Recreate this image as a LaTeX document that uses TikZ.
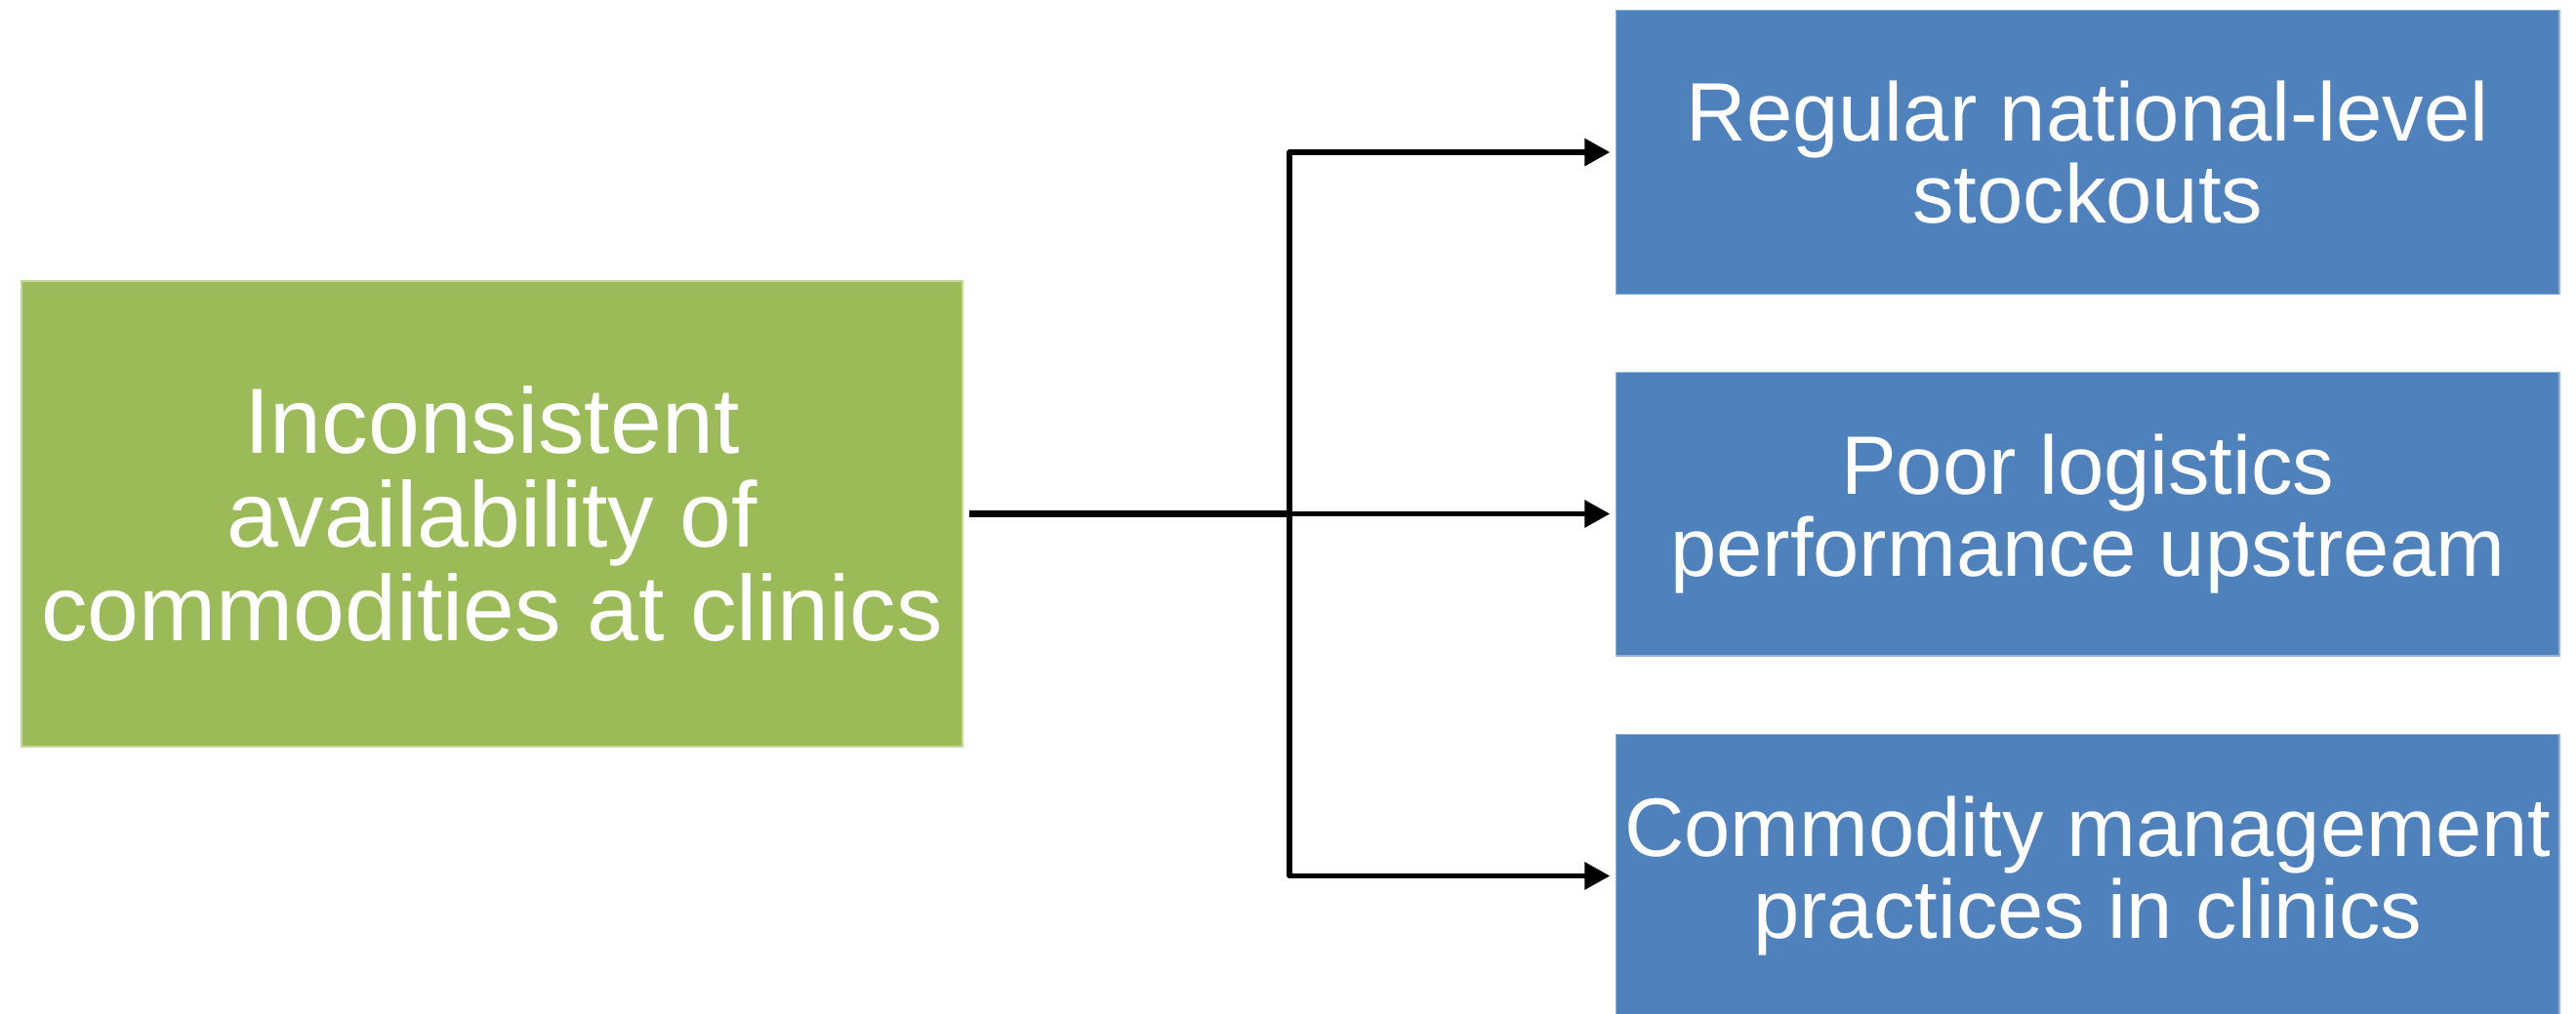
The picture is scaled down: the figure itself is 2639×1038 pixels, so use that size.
\documentclass[tikz,border=0pt]{standalone}
\usepackage{fontspec}
\setmainfont{Liberation Sans}
\usetikzlibrary{arrows.meta}
\definecolor{boxgreen}{HTML}{9BBB59}
\definecolor{boxblue}{HTML}{4F81BD}
\tikzset{
  greenbox/.style={fill=boxgreen, draw=boxgreen!60!white, line width=0.4pt, minimum width=289.2pt, minimum height=143.1pt, inner sep=0pt, align=center, text=white, font=\fontsize{28.5pt}{28.8pt}\selectfont},
  bluebox/.style={fill=boxblue, draw=boxblue!60!white, line width=0.4pt, minimum width=289.9pt, minimum height=87.2pt, inner sep=0pt, align=center, text=white, font=\fontsize{25.5pt}{25.2pt}\selectfont},
  trunk/.style={line width=2.1pt},
  arr/.style={line width=1.6pt, line join=round, -{Triangle[length=7.8pt,width=8.2pt]}, shorten >=1.7pt}
}
\begin{document}
\begin{tikzpicture}[x=0.3pt,y=-0.3pt]
\clip (0,0) rectangle (2639,1038);
\fill[white] (0,0) rectangle (2639,1038);
\node[greenbox] (g) at (504,526.5) {Inconsistent\\availability of\\commodities at clinics};
\node[bluebox] (b1) at (2138.8,156) {Regular national-level\\stockouts};
\node[bluebox] (b2) at (2138.8,526.5) {Poor logistics\\performance upstream};
\node[bluebox] (b3) at (2138.8,897.5) {Commodity management\\practices in clinics};
\coordinate (j) at (1321,526.5);
\draw[trunk, shorten <=1.8pt] (g.east) -- (j);
\draw[arr] (j) |- (b1.west);
\draw[arr] (j) -- (b2.west);
\draw[arr] (j) |- (b3.west);
\end{tikzpicture}
\end{document}
